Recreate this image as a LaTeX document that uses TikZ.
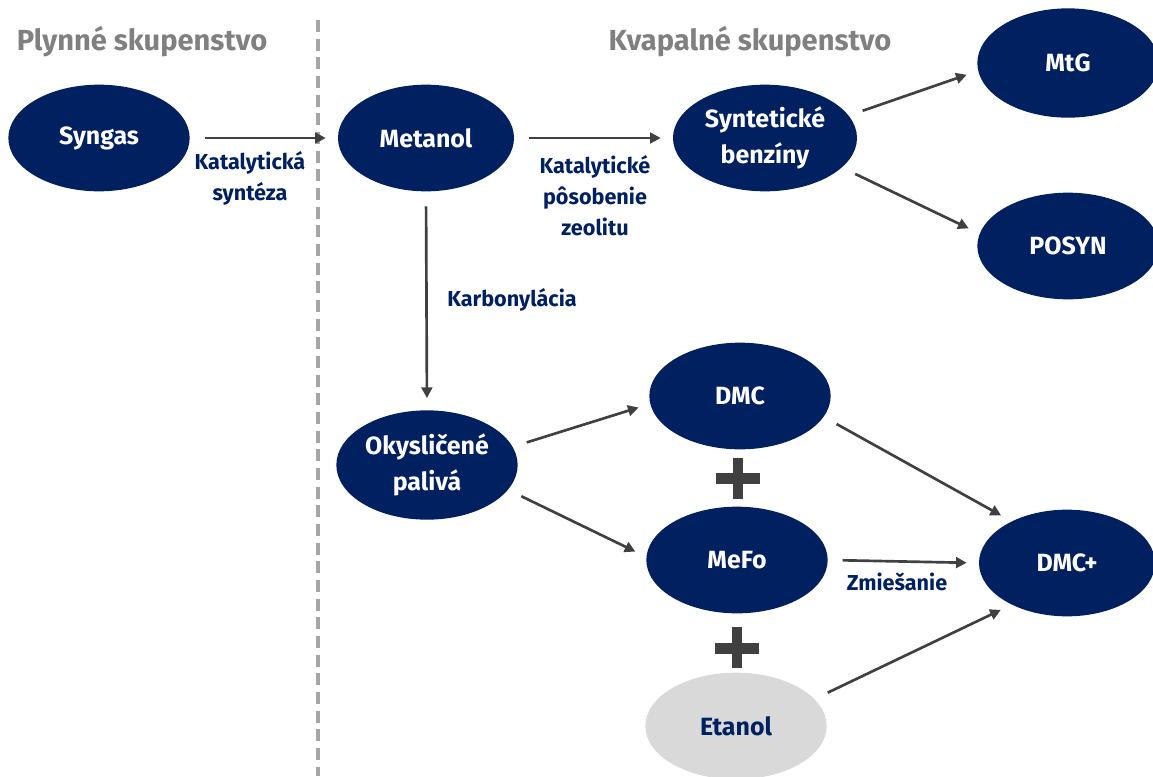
\documentclass[tikz,border=0pt]{standalone}
\usepackage{fontspec}
\setmainfont{Fira Sans}
\usetikzlibrary{shapes.geometric,arrows.meta}
\definecolor{navy}{HTML}{002060}
\definecolor{arrowgray}{HTML}{404040}
\definecolor{titlegray}{HTML}{808080}
\definecolor{dashgray}{HTML}{A6A6A6}
\definecolor{etgray}{HTML}{D9D9D9}
\begin{document}
\begin{tikzpicture}[x=0.75pt,y=-0.75pt,
  blob/.style={ellipse, fill=navy, text=white, inner sep=0pt, align=center,
    minimum width=136pt, minimum height=80pt,
    font=\fontsize{18.7}{27}\selectfont\bfseries},
  lightblob/.style={blob, fill=etgray, text=navy},
  lbl/.style={text=navy, align=center, inner sep=0pt,
    font=\fontsize{16.2}{23.25}\selectfont\bfseries},
  ttl/.style={text=titlegray, inner sep=0pt, font=\fontsize{21.8}{24}\selectfont\bfseries},
  arr/.style={draw=arrowgray, line width=2pt, -{Triangle[length=8pt,width=8pt]},
    shorten <=11pt, shorten >=9pt},
  plusbar/.style={fill=arrowgray}
]
\path[use as bounding box] (0,0) rectangle (1153,776);

% titles and divider
\node[ttl] (tgas) at (142,42) {Plynné skupenstvo};
\node[ttl] (tliq) at (750,42) {Kvapalné skupenstvo};
\draw[dashgray, line width=2.3pt, dash pattern=on 9pt off 5pt] (318,20) -- (318,776);

% nodes
\node[blob] (syngas) at (99,138) {Syngas};
\node[blob, minimum width=132pt] (metanol) at (426,138) {Metanol};
\node[blob, minimum width=138pt] (synt) at (765,138) {Syntetické\\benzíny};
\node[blob, minimum height=82pt] (mtg) at (1068,63) {MtG};
\node[blob] (posyn) at (1068,246) {POSYN};
\node[blob, minimum height=82pt] (okys) at (427,465) {Okysličené\\palivá};
\node[blob] (dmc) at (740,396) {DMC};
\node[blob] (mefo) at (737,560) {MeFo};
\node[lightblob] (etanol) at (736,726) {Etanol};
\node[blob, minimum width=132pt] (dmcp) at (1067,563) {DMC+};

% plus signs
\fill[plusbar] (716,473) rectangle (760,484);
\fill[plusbar] (733,458) rectangle (743,499);
\fill[plusbar] (715,643) rectangle (759,654);
\fill[plusbar] (732,627) rectangle (742,668);

% connectors
\draw[arr] (syngas.east) -- (metanol.west);
\draw[arr] (metanol.east) -- (synt.west);
\draw[arr] (synt.15) -- (mtg.185);
\draw[arr] (synt.-21) -- (posyn.172);
\draw[arr] (metanol.south) -- (okys.north);
\draw[arr] (okys.12) -- (dmc.185);
\draw[arr] (okys.-17) -- (mefo.178);
\draw[arr] (dmc.-14) -- (dmcp.143);
\draw[arr] (mefo.east) -- (dmcp.west);
\draw[arr] (etanol.19) -- (dmcp.217);

% labels
\node[lbl] (l1) at (250,178) {Katalytická\\syntéza};
\node[lbl] (l2) at (595,196) {Katalytické\\pôsobenie\\zeolitu};
\node[lbl] (l3) at (512,300) {Karbonylácia};
\node[lbl] (l4) at (897,582) {Zmiešanie};
\end{tikzpicture}
\end{document}
